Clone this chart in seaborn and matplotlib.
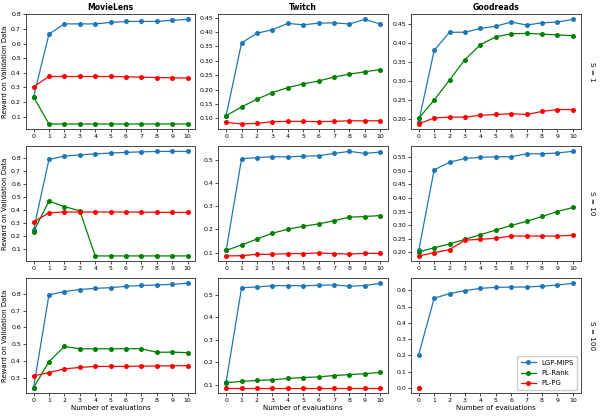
import pandas as pd
import numpy as np
import matplotlib
matplotlib.use("Agg")
import matplotlib.pyplot as plt
import seaborn as sns

# x axis: number of evaluations
evals = list(range(11))
datasets = ["MovieLens", "Twitch", "Goodreads"]
s_values = [1, 10, 100]
methods = ["LGP-MIPS", "PL-Rank", "PL-PG"]
colors = ["#1f77b4", "green", "red"]

# MovieLens
ml_s1_mips = [0.235, 0.665, 0.735, 0.735, 0.735, 0.745, 0.752, 0.752, 0.752, 0.76, 0.766]
ml_s1_rank = [0.235, 0.05, 0.05, 0.05, 0.05, 0.05, 0.05, 0.05, 0.05, 0.05, 0.05]
ml_s1_pg = [0.305, 0.375, 0.375, 0.375, 0.375, 0.375, 0.373, 0.370, 0.368, 0.366, 0.364]
ml_s10_mips = [0.25, 0.793, 0.818, 0.828, 0.835, 0.842, 0.847, 0.851, 0.854, 0.855, 0.855]
ml_s10_rank = [0.237, 0.472, 0.43, 0.397, 0.05, 0.05, 0.05, 0.05, 0.05, 0.05, 0.05]
ml_s10_pg = [0.31, 0.382, 0.388, 0.388, 0.388, 0.388, 0.388, 0.387, 0.386, 0.385, 0.385]
ml_s100_mips = [0.24, 0.794, 0.814, 0.826, 0.833, 0.837, 0.845, 0.85, 0.853, 0.857, 0.863]
ml_s100_rank = [0.241, 0.396, 0.487, 0.473, 0.473, 0.473, 0.473, 0.473, 0.452, 0.453, 0.45]
ml_s100_pg = [0.312, 0.331, 0.353, 0.362, 0.368, 0.368, 0.368, 0.37, 0.37, 0.372, 0.372]

# Twitch
tw_s1_mips = [0.11, 0.362, 0.396, 0.408, 0.43, 0.425, 0.431, 0.432, 0.428, 0.444, 0.428]
tw_s1_rank = [0.11, 0.14, 0.167, 0.19, 0.207, 0.22, 0.23, 0.244, 0.254, 0.262, 0.27]
tw_s1_pg = [0.087, 0.081, 0.083, 0.089, 0.09, 0.09, 0.089, 0.09, 0.092, 0.092, 0.092]
tw_s10_mips = [0.11, 0.505, 0.51, 0.514, 0.513, 0.516, 0.518, 0.528, 0.537, 0.528, 0.534]
tw_s10_rank = [0.11, 0.133, 0.159, 0.184, 0.201, 0.214, 0.224, 0.238, 0.253, 0.256, 0.26]
tw_s10_pg = [0.086, 0.087, 0.093, 0.093, 0.096, 0.096, 0.099, 0.096, 0.094, 0.097, 0.097]
tw_s100_mips = [0.112, 0.531, 0.535, 0.54, 0.541, 0.54, 0.542, 0.544, 0.538, 0.541, 0.551]
tw_s100_rank = [0.109, 0.115, 0.119, 0.122, 0.128, 0.132, 0.135, 0.141, 0.145, 0.149, 0.155]
tw_s100_pg = [0.086, 0.086, 0.086, 0.086, 0.086, 0.086, 0.086, 0.086, 0.086, 0.086, 0.086]

# Goodreads
gr_s1_mips = [0.193, 0.381, 0.429, 0.429, 0.439, 0.445, 0.456, 0.448, 0.454, 0.456, 0.463]
gr_s1_rank = [0.202, 0.25, 0.303, 0.357, 0.396, 0.417, 0.425, 0.426, 0.424, 0.422, 0.42]
gr_s1_pg = [0.187, 0.203, 0.205, 0.205, 0.21, 0.212, 0.214, 0.212, 0.22, 0.225, 0.225]
gr_s10_mips = [0.207, 0.503, 0.531, 0.545, 0.549, 0.551, 0.551, 0.562, 0.562, 0.565, 0.571]
gr_s10_rank = [0.202, 0.217, 0.231, 0.248, 0.265, 0.282, 0.299, 0.314, 0.332, 0.35, 0.365]
gr_s10_pg = [0.187, 0.199, 0.21, 0.245, 0.248, 0.252, 0.26, 0.26, 0.26, 0.26, 0.263]
gr_s100_mips = [0.205, 0.551, 0.58, 0.598, 0.612, 0.618, 0.62, 0.62, 0.626, 0.632, 0.643]
gr_s100_rank = [0.0] + [np.nan] * 10
gr_s100_pg = [0.0] + [np.nan] * 10

panels = {
    ("MovieLens", 1): [ml_s1_mips, ml_s1_rank, ml_s1_pg],
    ("MovieLens", 10): [ml_s10_mips, ml_s10_rank, ml_s10_pg],
    ("MovieLens", 100): [ml_s100_mips, ml_s100_rank, ml_s100_pg],
    ("Twitch", 1): [tw_s1_mips, tw_s1_rank, tw_s1_pg],
    ("Twitch", 10): [tw_s10_mips, tw_s10_rank, tw_s10_pg],
    ("Twitch", 100): [tw_s100_mips, tw_s100_rank, tw_s100_pg],
    ("Goodreads", 1): [gr_s1_mips, gr_s1_rank, gr_s1_pg],
    ("Goodreads", 10): [gr_s10_mips, gr_s10_rank, gr_s10_pg],
    ("Goodreads", 100): [gr_s100_mips, gr_s100_rank, gr_s100_pg],
}

fig, axes = plt.subplots(3, 3, figsize=(6.01, 4.16), dpi=100)
fig.subplots_adjust(left=0.043, right=0.966, top=0.966, bottom=0.055,
                    wspace=0.136, hspace=0.147)

for r, s in enumerate(s_values):
    for c, name in enumerate(datasets):
        ax = axes[r, c]
        for method, color, vals in zip(methods, colors, panels[(name, s)]):
            df = pd.DataFrame({"eval": evals, "reward": vals}).dropna()
            sns.lineplot(data=df, x="eval", y="reward", color=color, marker="o",
                         markersize=3.6, markeredgewidth=0, linewidth=0.9,
                         label=method, ax=ax)
        if ax.get_legend() is not None:
            ax.get_legend().remove()
        ax.set_xticks(evals)
        ax.tick_params(labelsize=4.5, length=2, width=0.5, pad=1.5)
        for sp in ax.spines.values():
            sp.set_linewidth(0.7)
            sp.set_color("#444444")
        ax.set_xlabel("Number of evaluations" if r == 2 else "", fontsize=5, labelpad=1.5)
        ax.set_ylabel("Reward on Validation Data" if c == 0 else "", fontsize=5, labelpad=2)
        if r == 0:
            ax.set_title(name, fontsize=5.5, fontweight="bold", pad=3)
        if c == 2:
            ax.text(1.07, 0.5, f"S = {s}", transform=ax.transAxes, rotation=270,
                    ha="center", va="center", fontsize=5.2)

axes[2, 2].legend(loc="lower right", fontsize=5, handlelength=2.2,
                  borderpad=0.5, labelspacing=0.6, framealpha=1)

fig.savefig("out.png", dpi=100)
